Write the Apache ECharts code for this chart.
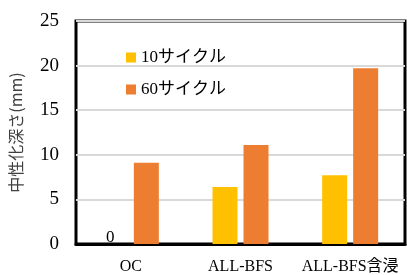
<!DOCTYPE html>
<html>
<head>
<meta charset="utf-8">
<script src="https://cdn.jsdelivr.net/npm/echarts@6/dist/echarts.min.js"></script>
<style>
  html, body { margin: 0; padding: 0; background: #fff; }
  #chart { width: 407px; height: 275px; }
</style>
</head>
<body>
<div id="chart"></div>
<script>
// データ
var categories = ['OC', 'ALL-BFS', 'ALL-BFS含浸'];
var cycle10 = [0, 6.4, 7.7];
var cycle60 = [9.1, 11.1, 19.7];
var yTicks = { min: 0, max: 25, interval: 5 };

var serif = '"Liberation Serif", "Noto Sans CJK JP", serif';

var myChart = echarts.init(document.getElementById('chart'));

// 値が0のときだけラベルを出す
var data10 = cycle10.map(function (v) {
  return v === 0 ? { value: v, label: { show: true } } : v;
});

myChart.setOption({
  animation: false,
  grid: {
    left: 76, right: 2, top: 21, bottom: 30,
    show: true,
    borderColor: '#000',
    borderWidth: 3
  },
  legend: {
    orient: 'vertical',
    left: 121,
    top: 44,
    itemWidth: 10,
    itemHeight: 10,
    itemGap: 15,
    icon: 'rect',
    textStyle: { fontFamily: serif, fontSize: 17, color: '#000', lineHeight: 17 },
    data: ['10サイクル', '60サイクル']
  },
  xAxis: {
    type: 'category',
    data: categories,
    axisLine: { lineStyle: { color: '#000', width: 3 } },
    axisTick: { show: false },
    axisLabel: { fontFamily: serif, fontSize: 16, color: '#000', margin: 15, interval: 0 }
  },
  yAxis: {
    type: 'value',
    min: yTicks.min,
    max: yTicks.max,
    interval: yTicks.interval,
    name: '中性化深さ(mm)',
    nameLocation: 'middle',
    nameGap: 52,
    nameTextStyle: { fontFamily: '"Noto Sans CJK JP", sans-serif', fontSize: 16, color: '#404040' },
    axisLine: { show: false },
    axisTick: { show: false },
    axisLabel: { fontFamily: serif, fontSize: 19, color: '#000', margin: 17 },
    splitLine: { lineStyle: { color: '#d9d9d9', width: 2 } }
  },
  series: [
    {
      name: '10サイクル',
      type: 'bar',
      data: data10,
      barWidth: 25,
      barGap: '24%',
      itemStyle: { color: '#FFC000' },
      label: {
        show: false,
        position: 'top',
        distance: -2,
        offset: [-5, 0],
        fontFamily: serif,
        fontSize: 17,
        color: '#000'
      }
    },
    {
      name: '60サイクル',
      type: 'bar',
      data: cycle60,
      barWidth: 25,
      itemStyle: { color: '#ED7D31' }
    }
  ]
});
</script>
</body>
</html>
